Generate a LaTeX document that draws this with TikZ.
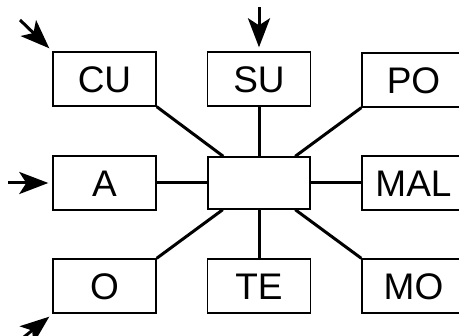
\documentclass[tikz,border=0pt]{standalone}
\usepackage{fontspec}
\setmainfont{Liberation Sans}
\usetikzlibrary{arrows.meta}
\begin{document}
\begin{tikzpicture}[x=1pt,y=-1pt,
  box/.style={draw,line width=1.4pt,minimum width=103pt,minimum height=54pt,inner sep=0pt,
    font=\fontsize{37}{40}\selectfont,text height=26.5pt,text depth=0pt},
  link/.style={line width=3pt},
  feed/.style={line width=3pt,-{Stealth[length=29pt,width=22pt,inset=7pt]}}]
\useasboundingbox (0,0) rectangle (459,336);
\clip (0,0) rectangle (459,336);
\node[box] (CU) at (104.5,79) {CU};
\node[box] (SU) at (259,79) {SU};
\node[box] (PO) at (413.5,80) {PO};
\node[box] (A) at (104.5,183) {A};
\node[box,minimum width=102pt,minimum height=52pt] (C) at (259,183) {};
\node[box] (MAL) at (413.5,183) {MAL};
\node[box] (O) at (104.5,286) {O};
\node[box] (TE) at (259,286) {TE};
\node[box] (MO) at (413.5,286) {MO};
\draw[link] (CU.south east) -- (C);
\draw[link] (PO.south west) -- (C);
\draw[link] (O.north east) -- (C);
\draw[link] (MO.north west) -- (C);
\draw[link] (SU) -- (C);
\draw[link] (TE) -- (C);
\draw[link] (A) -- (C);
\draw[link] (MAL) -- (C);
\coordinate (inSU) at (259,7);
\coordinate (inCU) at (20,20);
\coordinate (inA) at (8,183);
\coordinate (inO) at (19,341);
\draw[feed] (inSU) -- ([yshift=4pt]SU.north);
\draw[feed] (inCU) -- ([shift={(-3pt,3pt)}]CU.north west);
\draw[feed] (inA) -- ([xshift=-4pt]A.west);
\draw[feed] (inO) -- ([shift={(-3pt,-3pt)}]O.south west);
\end{tikzpicture}
\end{document}
